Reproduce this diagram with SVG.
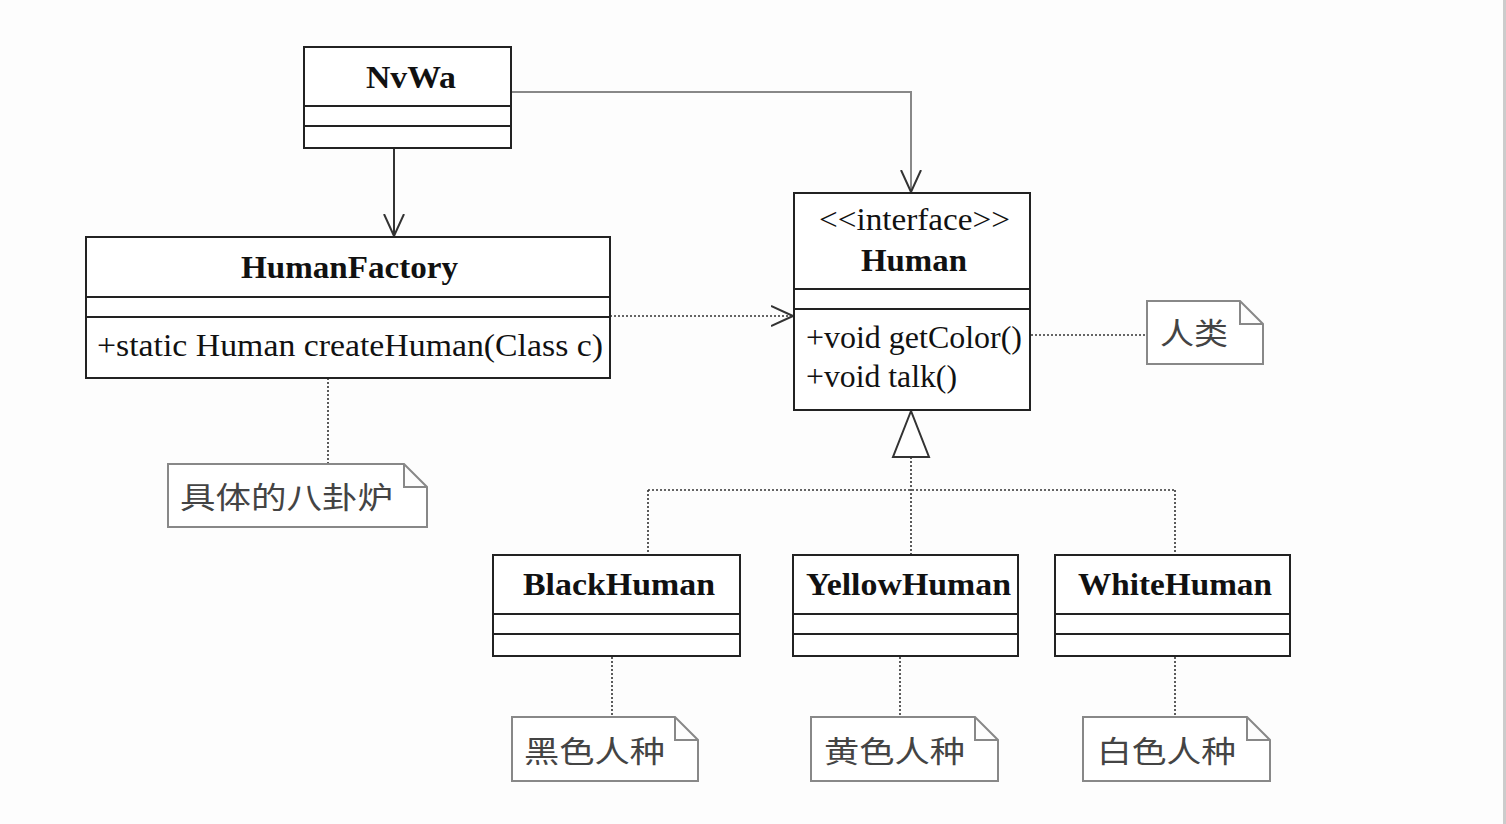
<svg xmlns="http://www.w3.org/2000/svg" width="1506" height="824" viewBox="0 0 1506 824">
<defs>
<style>
.box{fill:#fff;stroke:#222;stroke-width:2}
.div{stroke:#222;stroke-width:2}
.name{font-family:"Liberation Serif","Times New Roman",serif;font-weight:bold;font-size:31px;fill:#111}
.op{font-family:"Liberation Serif","Times New Roman",serif;font-size:31px;fill:#111}
.note{fill:#fff;stroke:#888;stroke-width:2}
.ntext{font-family:"Noto Sans CJK SC","Noto Sans CJK JP",sans-serif;font-size:30px;fill:#444}
.solid{fill:none;stroke:#333;stroke-width:2}
.gray{fill:none;stroke:#888;stroke-width:2}
.dot{fill:none;stroke:#333;stroke-width:1.6;stroke-dasharray:2 2}
</style>
<marker id="open" viewBox="0 0 24 24" refX="22" refY="12" markerWidth="24" markerHeight="24" markerUnits="userSpaceOnUse" orient="auto">
<path d="M0,2 L22,12 L0,22" fill="none" stroke="#333" stroke-width="2"/>
</marker>
</defs>
<rect width="1506" height="824" fill="#fdfdfd"/>
<rect x="1503" y="0" width="3" height="824" fill="#cccccc"/>

<g id="connectors">
<path class="solid" d="M394,148 V236" marker-end="url(#open)"/>
<path class="gray" d="M511,92 H911 V192" marker-end="url(#open)"/>
<path class="dot" d="M610,316 H793" marker-end="url(#open)"/>
<path class="dot" d="M1031,335 H1149"/>
<path class="dot" d="M328,378 V464"/>
<path class="dot" d="M911,457 V555"/>
<path class="dot" d="M648,490 H1175"/>
<path class="dot" d="M648,490 V555"/>
<path class="dot" d="M1175,490 V555"/>
<path class="dot" d="M612,657 V717"/>
<path class="dot" d="M900,657 V717"/>
<path class="dot" d="M1175,657 V717"/>
<path d="M911,411 L893,457 H929 Z" fill="#fff" stroke="#333" stroke-width="2"/>
</g>

<g id="NvWa">
<rect class="box" x="304" y="47" width="207" height="101"/>
<line class="div" x1="304" y1="106" x2="511" y2="106"/>
<line class="div" x1="304" y1="126" x2="511" y2="126"/>
<text class="name" x="366" y="88" textLength="90" lengthAdjust="spacingAndGlyphs">NvWa</text>
</g>

<g id="HumanFactory">
<rect class="box" x="86" y="237" width="524" height="141"/>
<line class="div" x1="86" y1="297" x2="610" y2="297"/>
<line class="div" x1="86" y1="317" x2="610" y2="317"/>
<text class="name" x="241" y="278" textLength="217" lengthAdjust="spacingAndGlyphs">HumanFactory</text>
<text class="op" x="97" y="356" textLength="506" lengthAdjust="spacingAndGlyphs">+static Human createHuman(Class c)</text>
</g>

<g id="Human">
<rect class="box" x="794" y="193" width="236" height="217"/>
<line class="div" x1="794" y1="289" x2="1030" y2="289"/>
<line class="div" x1="794" y1="309" x2="1030" y2="309"/>
<text class="op" x="819" y="230" textLength="191" lengthAdjust="spacingAndGlyphs">&lt;&lt;interface&gt;&gt;</text>
<text class="name" x="861" y="271" textLength="106" lengthAdjust="spacingAndGlyphs">Human</text>
<text class="op" x="806" y="348" textLength="216" lengthAdjust="spacingAndGlyphs">+void getColor()</text>
<text class="op" x="806" y="387" textLength="151" lengthAdjust="spacingAndGlyphs">+void talk()</text>
</g>

<g id="BlackHuman">
<rect class="box" x="493" y="555" width="247" height="101"/>
<line class="div" x1="493" y1="614" x2="740" y2="614"/>
<line class="div" x1="493" y1="634" x2="740" y2="634"/>
<text class="name" x="523" y="595" textLength="192" lengthAdjust="spacingAndGlyphs">BlackHuman</text>
</g>

<g id="YellowHuman">
<rect class="box" x="793" y="555" width="225" height="101"/>
<line class="div" x1="793" y1="614" x2="1018" y2="614"/>
<line class="div" x1="793" y1="634" x2="1018" y2="634"/>
<text class="name" x="806" y="595" textLength="205" lengthAdjust="spacingAndGlyphs">YellowHuman</text>
</g>

<g id="WhiteHuman">
<rect class="box" x="1055" y="555" width="235" height="101"/>
<line class="div" x1="1055" y1="614" x2="1290" y2="614"/>
<line class="div" x1="1055" y1="634" x2="1290" y2="634"/>
<text class="name" x="1078" y="595" textLength="194" lengthAdjust="spacingAndGlyphs">WhiteHuman</text>
</g>

<g id="note-human">
<path class="note" d="M1147,301 H1240 L1263,324 V364 H1147 Z M1240,301 V324 H1263"/>
<text class="ntext" x="1160" y="344" textLength="68" lengthAdjust="spacingAndGlyphs">人类</text>
</g>

<g id="note-factory">
<path class="note" d="M168,464 H404 L427,487 V527 H168 Z M404,464 V487 H427"/>
<text class="ntext" x="180" y="508" textLength="213" lengthAdjust="spacingAndGlyphs">具体的八卦炉</text>
</g>

<g id="note-black">
<path class="note" d="M512,717 H675 L698,740 V781 H512 Z M675,717 V740 H698"/>
<text class="ntext" x="524" y="762" textLength="141" lengthAdjust="spacingAndGlyphs">黑色人种</text>
</g>

<g id="note-yellow">
<path class="note" d="M811,717 H975 L998,740 V781 H811 Z M975,717 V740 H998"/>
<text class="ntext" x="824" y="762" textLength="141" lengthAdjust="spacingAndGlyphs">黄色人种</text>
</g>

<g id="note-white">
<path class="note" d="M1083,717 H1247 L1270,740 V781 H1083 Z M1247,717 V740 H1270"/>
<text class="ntext" x="1097" y="762" textLength="139" lengthAdjust="spacingAndGlyphs">白色人种</text>
</g>
</svg>
